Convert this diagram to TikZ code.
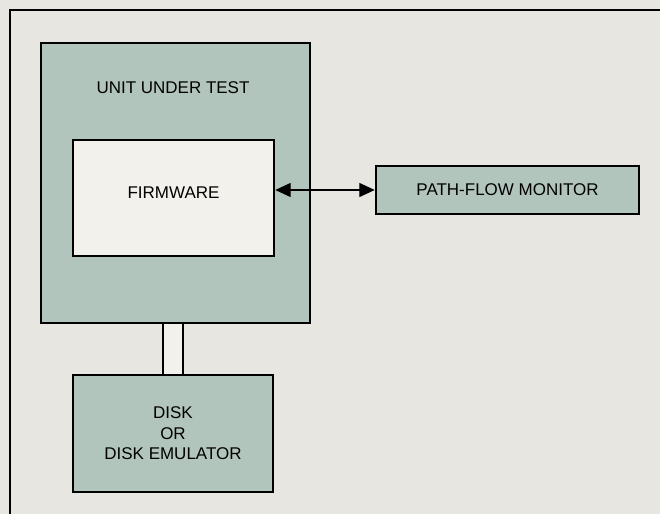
\documentclass[tikz,border=0pt]{standalone}
\usepackage{fontspec}
\setsansfont{Liberation Sans}
\usepackage{xcolor}
\usepackage{tikz}
\usetikzlibrary{arrows.meta,positioning,calc}
\definecolor{paper}{RGB}{232,230,225}
\definecolor{unitfill}{RGB}{178,197,189}
\definecolor{fwfill}{RGB}{243,241,235}

\begin{document}
\begin{tikzpicture}[
  x=0.03cm, y=-0.03cm,
  font=\sffamily\fontsize{14.5}{17.6}\selectfont,
  block/.style={draw, line width=2.2pt, fill=unitfill, inner sep=0pt, align=center},
  arrow/.style={{Triangle[length=4.6mm,width=4.2mm]}-{Triangle[length=4.6mm,width=4.2mm]}, line width=0.9pt}
]
\fill[paper] (0,0) rectangle (660,514);
\useasboundingbox (0,0) rectangle (660,514);
\draw[line width=1.3pt] (660,10) -- (10,10) -- (10,514);
\node[block, minimum width=8.07cm, minimum height=8.4cm] (uut) at (175.5,183) {};
\node (uuttext) at (173,88) {UNIT UNDER TEST};
\node[block, fill=fwfill, minimum width=6.03cm, minimum height=3.48cm] (fw) at (173.5,198) {};
\node (fwtext) at (173.5,193) {FIRMWARE};
\node[block, minimum width=7.89cm, minimum height=1.44cm] (pfm) at (507.5,190) {PATH-FLOW MONITOR};
\node[block, minimum width=6.0cm, minimum height=3.51cm] (disk) at (173,433.5) {DISK\\OR\\DISK EMULATOR};
\draw[line width=1.8pt, double=fwfill, double distance=0.54cm] (disk.north) -- (disk.north |- uut.south);
\draw[arrow] (pfm.west) -- (pfm.west -| fw.east);
\end{tikzpicture}
\end{document}
